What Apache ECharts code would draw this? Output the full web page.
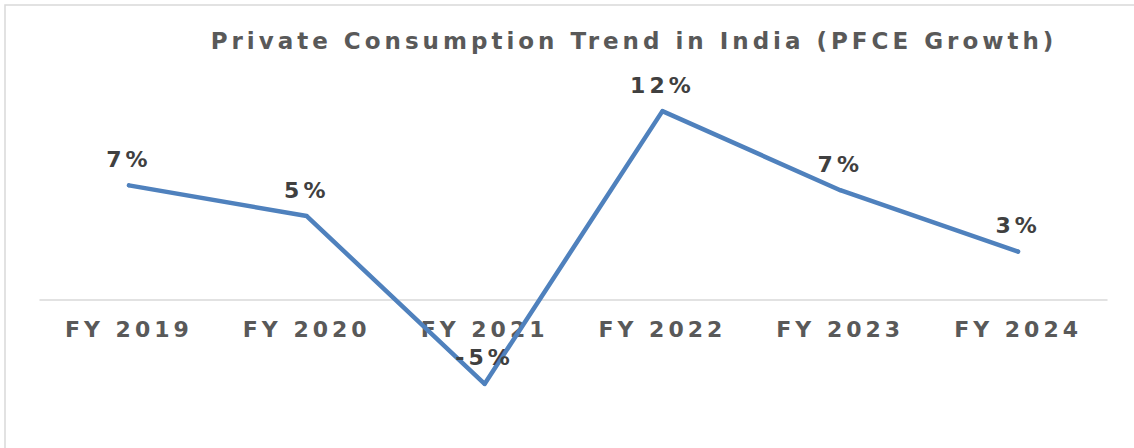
<!DOCTYPE html>
<html>
<head>
<meta charset="utf-8">
<script src="https://cdn.jsdelivr.net/npm/echarts@6/dist/echarts.min.js"></script>
<style>
  html, body { margin: 0; padding: 0; background: #fff; }
  #chart { width: 1134px; height: 448px; }
  /* the source uses a wide face, so open the letters up a bit */
  #chart text { letter-spacing: 4px; }
</style>
</head>
<body>
<div id="chart"></div>
<script>
// categories and PFCE growth (%)
const years = ['FY 2019', 'FY 2020', 'FY 2021', 'FY 2022', 'FY 2023', 'FY 2024']
const growth = [7.1, 5.2, -5.2, 11.7, 6.8, 3.0]
const chartTitle = 'Private Consumption Trend in India (PFCE Growth)'

const font = '"DejaVu Sans", "Open Sans", sans-serif'

const chart = echarts.init(document.getElementById('chart'), null, { renderer: 'svg' })

const option = {
  backgroundColor: '#fff',
  animation: false,
  graphic: [
    {
      // chart frame (only top and left edges visible in the picture)
      type: 'rect',
      shape: { x: 5, y: 5, width: 1300, height: 600 },
      style: { fill: 'none', stroke: '#d9d9d9', lineWidth: 1.5 },
      silent: true
    },
    {
      type: 'text',
      x: 634,
      y: 41,
      style: {
        text: chartTitle,
        font: 'bold 23px ' + font,
        fill: '#595959',
        textAlign: 'center',
        textVerticalAlign: 'middle'
      }
    }
  ],
  // axis sits on the zero line: grid bottom = 0, negatives drawn below it (clip off)
  grid: {
    left: 40,
    right: 27,
    top: 74,
    bottom: 148,
    containLabel: false,
    outerBoundsMode: 'none'
  },
  xAxis: {
    type: 'category',
    data: years,
    boundaryGap: true,
    axisLine: { show: true, onZero: false, lineStyle: { color: '#d9d9d9', width: 1.5 } },
    axisTick: { show: false },
    axisLabel: {
      margin: 18,
      color: '#595959',
      fontFamily: font,
      fontWeight: 'bold',
      fontSize: 22
    },
    splitLine: { show: false }
  },
  yAxis: {
    type: 'value',
    min: 0,
    max: 14,
    show: false,
    splitLine: { show: false }
  },
  series: [
    {
      name: 'PFCE Growth',
      type: 'line',
      data: growth,
      clip: false,
      showSymbol: true,
      symbol: 'circle',
      symbolSize: 4,
      lineStyle: { color: '#4f81bd', width: 4.5, cap: 'round', join: 'round' },
      itemStyle: { color: '#4f81bd' },
      label: {
        show: true,
        position: 'top',
        distance: 13,
        color: '#404040',
        fontFamily: font,
        fontWeight: 'bold',
        fontSize: 22,
        formatter: p => Math.round(p.value) + '%'
      }
    }
  ]
}

chart.setOption(option)
</script>
</body>
</html>
